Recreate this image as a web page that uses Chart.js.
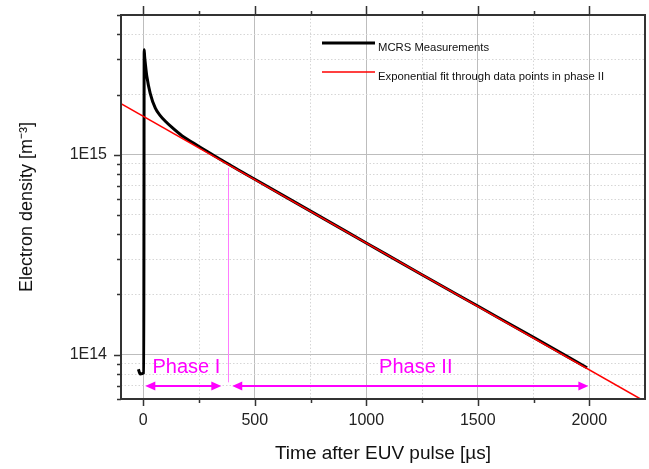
<!DOCTYPE html>
<html>
<head>
<meta charset="utf-8">
<script src="https://cdn.jsdelivr.net/npm/chart.js@4.4.1/dist/chart.umd.min.js"></script>
<style>
  html, body { margin: 0; padding: 0; background: #fff; }
</style>
</head>
<body>
<canvas id="chart" width="649" height="469"></canvas>
<script>
// measured electron density (time in µs, density in m^-3)
const measT = [-22, -14, 2, 4, 6, 9, 16, 31, 54, 75, 99, 130, 173, 248, 330, 400, 500, 750, 1000, 1250, 1500, 1750, 1990];
const measN = [8.45e13, 8.0e13, 8.1e13, 3.35e15, 3.1e15, 2.87e15, 2.46e15, 2.03e15, 1.71e15, 1.575e15, 1.47e15, 1.365e15, 1.245e15, 1.103e15, 9.72e14, 8.73e14, 7.54e14, 5.22e14, 3.62e14, 2.51e14, 1.75e14, 1.22e14, 8.6e13];

// exponential fit (straight on log axis)
const fitT = [-100, 2230];
const fitN = [1.8e15, 6.0e13];

const xTicks = [0, 250, 500, 750, 1000, 1250, 1500, 1750, 2000];
const yTicks = [6e13, 7e13, 8e13, 9e13, 1e14, 2e14, 3e14, 4e14, 5e14, 6e14, 7e14, 8e14, 9e14, 1e15, 2e15, 3e15, 4e15, 5e15];
const yLabels = { 1e14: '1E14', 1e15: '1E15' };

// phase annotations
const phaseNames = ['Phase I', 'Phase II'];
const phaseFrom = [9, 399];
const phaseTo = [350, 1996];
const phaseLabelT = [193, 1222];
const phaseLabelN = 8.06e13;
const phaseArrowN = 6.96e13;
const boundaryT = 380;
const boundaryTop = 8.6e14;
const boundaryBottom = 7.27e13;

const legendItems = ['MCRS Measurements', 'Exponential fit through data points in phase II'];
const legendColors = ['#000000', '#ff0000'];

const FONT = "'Liberation Sans', Arial, sans-serif";

function toPoints(xs, ys) {
    let pts = [];
    for (let i = 0; i < xs.length; i++) {
        pts.push({ x: xs[i], y: ys[i] });
    }
    return pts;
}

function arrowHead(ctx, x, y, dir) {
    ctx.beginPath();
    ctx.moveTo(x, y);
    ctx.lineTo(x - dir * 10, y - 4.5);
    ctx.lineTo(x - dir * 10, y + 4.5);
    ctx.closePath();
    ctx.fill();
}

const annotations = {
    id: 'annotations',
    afterDatasetsDraw(chart) {
        const ctx = chart.ctx;
        const x = chart.scales.x;
        const y = chart.scales.y;
        ctx.save();

        // phase boundary
        let bx = Math.round(x.getPixelForValue(boundaryT)) + 0.5;
        ctx.strokeStyle = '#ff7cff';
        ctx.lineWidth = 1;
        ctx.beginPath();
        ctx.moveTo(bx, y.getPixelForValue(boundaryTop));
        ctx.lineTo(bx, y.getPixelForValue(boundaryBottom));
        ctx.stroke();

        // arrows + labels
        ctx.strokeStyle = '#ff00ff';
        ctx.fillStyle = '#ff00ff';
        ctx.lineWidth = 2;
        let ay = y.getPixelForValue(phaseArrowN);
        for (let i = 0; i < phaseNames.length; i++) {
            let x1 = x.getPixelForValue(phaseFrom[i]);
            let x2 = x.getPixelForValue(phaseTo[i]);
            ctx.beginPath();
            ctx.moveTo(x1 + 6, ay);
            ctx.lineTo(x2 - 6, ay);
            ctx.stroke();
            arrowHead(ctx, x1, ay, -1);
            arrowHead(ctx, x2, ay, 1);

            ctx.font = '20px ' + FONT;
            ctx.textAlign = 'center';
            ctx.textBaseline = 'alphabetic';
            ctx.fillText(phaseNames[i], x.getPixelForValue(phaseLabelT[i]), y.getPixelForValue(phaseLabelN));
        }

        // legend
        const a = chart.chartArea;
        ctx.font = '11.3px ' + FONT;
        ctx.textAlign = 'left';
        ctx.textBaseline = 'middle';
        for (let i = 0; i < legendItems.length; i++) {
            let ly = a.top + 28 + i * 29;
            ctx.strokeStyle = legendColors[i];
            ctx.lineWidth = i === 0 ? 3 : 1.5;
            ctx.beginPath();
            ctx.moveTo(a.left + 201, ly);
            ctx.lineTo(a.left + 254, ly);
            ctx.stroke();
            ctx.fillStyle = '#111';
            ctx.fillText(legendItems[i], a.left + 257, ly + 5);
        }
        ctx.restore();
    }
};

const frameAndTicks = {
    id: 'frameAndTicks',
    afterDraw(chart) {
        const ctx = chart.ctx;
        const a = chart.chartArea;
        const x = chart.scales.x;
        const y = chart.scales.y;
        ctx.save();
        ctx.strokeStyle = '#333';
        ctx.lineWidth = 1.5;
        ctx.beginPath();
        x.ticks.forEach(t => {
            let px = Math.round(x.getPixelForValue(t.value)) + 0.5;
            let major = t.value % 500 === 0;
            ctx.moveTo(px, a.bottom);
            ctx.lineTo(px, a.bottom + (major ? 7 : 4));
            ctx.moveTo(px, a.top);
            ctx.lineTo(px, a.top - (major ? 9 : 4));
        });
        y.ticks.forEach(t => {
            let py = Math.round(y.getPixelForValue(t.value)) + 0.5;
            let major = yLabels[t.value] !== undefined;
            ctx.moveTo(a.left, py);
            ctx.lineTo(a.left - (major ? 7 : 4), py);
        });
        ctx.stroke();

        ctx.lineWidth = 2;
        ctx.strokeRect(a.left, a.top, a.right - a.left, a.bottom - a.top);
        ctx.restore();
    }
};

new Chart(document.getElementById('chart').getContext('2d'), {
    type: 'line',
    data: {
        datasets: [
            {
                label: legendItems[0],
                data: toPoints(measT, measN),
                borderColor: '#000',
                borderWidth: 3,
                pointRadius: 0,
                cubicInterpolationMode: 'monotone',
                order: 2
            },
            {
                label: legendItems[1],
                data: toPoints(fitT, fitN),
                borderColor: '#ff0000',
                borderWidth: 1.5,
                pointRadius: 0,
                order: 1
            }
        ]
    },
    options: {
        responsive: false,
        devicePixelRatio: 1,
        animation: false,
        layout: { padding: { left: 0, top: 15, right: 4, bottom: 0 } },
        plugins: {
            legend: { display: false },
            tooltip: { enabled: false }
        },
        scales: {
            x: {
                type: 'linear',
                min: -100,
                max: 2250,
                afterBuildTicks: (scale) => { scale.ticks = xTicks.map(v => ({ value: v })); },
                afterFit: (scale) => {
                    scale.height = 70;
                    scale.paddingLeft = 0;
                    scale.paddingRight = 0;
                },
                ticks: {
                    autoSkip: false,
                    maxRotation: 0,
                    padding: 12,
                    color: '#222',
                    font: { family: FONT, size: 16 },
                    callback: (v) => (v % 500 === 0 ? String(v) : '')
                },
                grid: {
                    drawTicks: false,
                    color: (c) => (c.tick && c.tick.value % 500 === 0 ? '#bdbdbd' : '#d6d6d6'),
                    lineWidth: 1
                },
                border: {
                    display: false,
                    dash: (c) => (c.tick && c.tick.value % 500 === 0 ? [] : [1.5, 2])
                },
                title: {
                    display: true,
                    text: 'Time after EUV pulse [µs]',
                    color: '#111',
                    font: { family: FONT, size: 19, lineHeight: 1.2 },
                    padding: { top: 0, bottom: 4 }
                }
            },
            y: {
                type: 'logarithmic',
                min: 6e13,
                max: 5e15,
                afterBuildTicks: (scale) => { scale.ticks = yTicks.map(v => ({ value: v })); },
                afterFit: (scale) => {
                    scale.width = 121;
                    scale.paddingTop = 0;
                    scale.paddingBottom = 0;
                },
                ticks: {
                    autoSkip: false,
                    padding: 14,
                    color: '#222',
                    font: { family: FONT, size: 16 },
                    callback: (v) => yLabels[v] || ''
                },
                grid: {
                    drawTicks: false,
                    color: (c) => (c.tick && yLabels[c.tick.value] ? '#bdbdbd' : '#d6d6d6'),
                    lineWidth: 1
                },
                border: {
                    display: false,
                    dash: (c) => (c.tick && yLabels[c.tick.value] ? [] : [1.5, 2])
                },
                title: {
                    display: true,
                    text: 'Electron density [m⁻³]',
                    color: '#111',
                    font: { family: FONT, size: 18, lineHeight: 1.2 },
                    padding: { top: 16, bottom: 0 }
                }
            }
        }
    },
    plugins: [annotations, frameAndTicks]
});
</script>
</body>
</html>
